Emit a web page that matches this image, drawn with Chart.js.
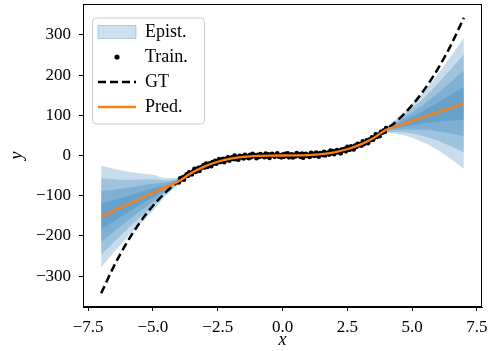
<!DOCTYPE html>
<html>
<head>
<meta charset="utf-8">
<script src="https://cdn.jsdelivr.net/npm/chart.js@4.4.0/dist/chart.umd.min.js"></script>
<style>
  html, body { margin: 0; padding: 0; background: #fff; }
</style>
</head>
<body>
<canvas id="chart" width="489" height="351"></canvas>
<script>
// grid used for the curves (x every 0.5)
const xGrid = [-7, -6.5, -6, -5.5, -5, -4.5, -4, -3.5, -3, -2.5, -2, -1.5, -1, -0.5, 0,
               0.5, 1, 1.5, 2, 2.5, 3, 3.5, 4, 4.5, 5, 5.5, 6, 6.5, 7];
const gtY = [-343, -274.6, -216, -166.4, -125, -91.1, -64, -42.9, -27, -15.6, -8, -3.4, -1, -0.1, 0,
             0.1, 1, 3.4, 8, 15.6, 27, 42.9, 64, 91.1, 125, 166.4, 216, 274.6, 343];
const predY = [-152, -137, -122, -107, -93, -78, -64, -43, -27, -15.6, -8, -3.4, -1, -0.1, 0,
               0.1, 1, 3.4, 8, 15.6, 27, 43, 64, 75, 86, 97, 108, 119, 130];
// outer half width of the epistemic band
const epistHalf = [127, 104, 82, 63, 45, 22, 8, 6, 6, 6, 6, 6, 6, 6, 6,
                   6, 6, 6, 6, 6, 6, 6, 8, 22, 42, 66, 95, 128, 163];
const epistLevels = [0.25, 0.5, 0.75, 1];

// training points
const trainX = [-4.00, -3.95, -3.90, -3.85, -3.80, -3.75, -3.70, -3.65, -3.60, -3.55,
                -3.50, -3.45, -3.40, -3.35, -3.30, -3.25, -3.20, -3.15, -3.10, -3.05,
                -3.00, -2.95, -2.90, -2.85, -2.80, -2.75, -2.70, -2.65, -2.60, -2.55,
                -2.50, -2.45, -2.40, -2.35, -2.30, -2.25, -2.20, -2.15, -2.10, -2.05,
                -2.00, -1.95, -1.90, -1.85, -1.80, -1.75, -1.70, -1.65, -1.60, -1.55,
                -1.50, -1.45, -1.40, -1.35, -1.30, -1.25, -1.20, -1.15, -1.10, -1.05,
                -1.00, -0.95, -0.90, -0.85, -0.80, -0.75, -0.70, -0.65, -0.60, -0.55,
                -0.50, -0.45, -0.40, -0.35, -0.30, -0.25, -0.20, -0.15, -0.10, -0.05,
                0.00, 0.05, 0.10, 0.15, 0.20, 0.25, 0.30, 0.35, 0.40, 0.45,
                0.50, 0.55, 0.60, 0.65, 0.70, 0.75, 0.80, 0.85, 0.90, 0.95,
                1.00, 1.05, 1.10, 1.15, 1.20, 1.25, 1.30, 1.35, 1.40, 1.45,
                1.50, 1.55, 1.60, 1.65, 1.70, 1.75, 1.80, 1.85, 1.90, 1.95,
                2.00, 2.05, 2.10, 2.15, 2.20, 2.25, 2.30, 2.35, 2.40, 2.45,
                2.50, 2.55, 2.60, 2.65, 2.70, 2.75, 2.80, 2.85, 2.90, 2.95,
                3.00, 3.05, 3.10, 3.15, 3.20, 3.25, 3.30, 3.35, 3.40, 3.45,
                3.50, 3.55, 3.60, 3.65, 3.70, 3.75, 3.80, 3.85, 3.90, 3.95, 4.00];
const trainY = [-67.2, -56.8, -59.7, -54.4, -60.5, -51.4, -46.8, -51.0, -41.5, -45.8,
                -47.2, -39.1, -33.3, -41.1, -35.2, -30.9, -38.7, -29.5, -30.0, -23.8,
                -29.8, -20.3, -28.5, -22.6, -19.7, -26.9, -16.6, -20.2, -13.4, -20.4,
                -14.6, -9.0, -16.4, -13.8, -8.5, -16.6, -8.2, -11.2, -4.4, -13.1,
                -7.8, -4.4, -8.9, -0.1, -9.1, -3.9, -10.3, -0.5, -4.7, -1.6,
                -7.3, 2.0, -4.4, -1.6, -6.9, 1.7, -4.0, 4.4, -1.4, 0.7,
                -6.8, 1.9, -3.7, 3.8, -1.9, 0.2, -4.3, 5.0, -2.7, 3.0,
                -6.1, 1.5, 4.0, -0.9, -3.4, 2.2, 5.6, -2.7, 0.4, -4.6,
                2.1, -3.4, 4.0, -1.2, 5.3, -4.6, 0.8, 3.2, -5.0, 1.8,
                -2.2, 6.2, -0.3, 3.1, -3.6, 4.8, -5.7, 1.7, 4.3, -1.1,
                1.3, -3.6, 6.9, 0.0, 4.1, -1.2, 7.1, 1.6, -2.8, 6.0,
                4.8, 1.0, 9.2, 0.3, 5.5, 7.6, 2.2, 12.6, 5.1, 11.3,
                3.0, 8.7, 13.8, 7.4, 12.5, 5.4, 15.5, 12.3, 16.4, 10.3,
                21.4, 15.6, 14.3, 22.7, 20.1, 15.1, 24.9, 21.0, 29.1, 25.4,
                28.6, 24.4, 35.3, 28.4, 33.7, 37.8, 30.6, 39.6, 37.9, 45.4,
                39.2, 44.9, 52.8, 46.4, 51.9, 47.8, 58.7, 56.5, 61.8, 58.6, 68.6];

const xTicks = [-7.5, -5, -2.5, 0, 2.5, 5, 7.5];
const yTicks = [-300, -200, -100, 0, 100, 200, 300];
const legendNames = ['Epist.', 'Train.', 'GT', 'Pred.'];

const BLUE_FILL = 'rgba(31, 119, 180, 0.25)';
const ORANGE = '#ff7f0e';
const SERIF = "'Liberation Serif', 'DejaVu Serif', serif";

function pts(ys) {
    return xGrid.map((x, i) => ({ x: x, y: ys[i] }));
}

const datasets = [];
datasets.push({
    label: 'Pred.', data: pts(predY), borderColor: ORANGE, borderWidth: 2.3,
    pointRadius: 0, fill: false, cubicInterpolationMode: 'monotone'
});
datasets.push({
    label: 'GT', data: pts(gtY), borderColor: '#000', borderWidth: 2.5, borderDash: [8, 4],
    pointRadius: 0, fill: false, cubicInterpolationMode: 'monotone'
});
datasets.push({
    label: 'Train.', data: trainX.map((x, i) => ({ x: x, y: trainY[i] })),
    showLine: false, pointRadius: 2.3, pointBorderWidth: 0,
    pointBackgroundColor: '#000', borderColor: '#000', fill: false
});
// nested bands: lower edge then upper edge filled down to it
epistLevels.forEach(k => {
    datasets.push({
        label: 'lo' + k, data: pts(predY.map((p, i) => p - k * epistHalf[i])),
        borderWidth: 0, pointRadius: 0, fill: false, cubicInterpolationMode: 'monotone'
    });
    datasets.push({
        label: 'hi' + k, data: pts(predY.map((p, i) => p + k * epistHalf[i])),
        borderWidth: 0, pointRadius: 0, fill: '-1', backgroundColor: BLUE_FILL,
        cubicInterpolationMode: 'monotone'
    });
});

// small black dot for the legend
const dot = document.createElement('canvas');
dot.width = 8; dot.height = 8;
const dctx = dot.getContext('2d');
dctx.fillStyle = '#000';
dctx.beginPath(); dctx.arc(4, 4, 2.6, 0, Math.PI * 2); dctx.fill();

const legendItems = [
    { text: legendNames[0], fillStyle: 'rgba(31, 119, 180, 0.22)', strokeStyle: 'rgba(31, 119, 180, 0.3)',
      lineWidth: 1, pointStyle: 'rect', hidden: false, fontColor: '#000' },
    { text: legendNames[1], fillStyle: '#000', strokeStyle: '#000', lineWidth: 0,
      pointStyle: dot, hidden: false, fontColor: '#000' },
    { text: legendNames[2], fillStyle: '#000', strokeStyle: '#000', lineWidth: 2.5, lineDash: [8, 4],
      pointStyle: 'line', hidden: false, fontColor: '#000' },
    { text: legendNames[3], fillStyle: ORANGE, strokeStyle: ORANGE, lineWidth: 2.3,
      pointStyle: 'line', hidden: false, fontColor: '#000' }
];

const framePlugin = {
    id: 'frame',
    afterLayout(chart) {
        // move legend a little into the axes, like matplotlib
        const lg = chart.legend;
        lg.left += 8; lg.right += 8;
        lg.top += 16; lg.bottom += 16;
    },
    afterDraw(chart) {
        const ctx = chart.ctx;
        const a = chart.chartArea;
        ctx.save();
        ctx.strokeStyle = '#000';
        ctx.lineWidth = 1;
        ctx.strokeRect(Math.round(a.left) + 0.5, Math.round(a.top) + 0.5,
                       Math.round(a.right - a.left) - 1, Math.round(a.bottom - a.top) - 1);
        // legend frame
        const lg = chart.legend;
        const fx = lg.left + 7 - 6, fy = lg.top + 7 - 5.5;
        ctx.strokeStyle = '#cccccc';
        ctx.beginPath();
        ctx.roundRect(fx + 0.5, fy + 0.5, 112, 106, 4);
        ctx.stroke();
        ctx.restore();
    }
};

const tickFont = { family: SERIF, size: 17 };
const titleFont = { family: SERIF, size: 18, style: 'italic' };

function fmt(v, digits) {
    const s = Math.abs(v).toFixed(digits);
    return v < 0 ? '\u2212' + s : s;
}

new Chart(document.getElementById('chart'), {
    type: 'line',
    data: { datasets: datasets },
    options: {
        responsive: false,
        animation: false,
        events: [],
        layout: { padding: { top: 4, right: 7, left: 0, bottom: 0 } },
        scales: {
            x: {
                type: 'linear', min: -7.7, max: 7.7,
                afterBuildTicks: s => { s.ticks = xTicks.map(v => ({ value: v })); },
                afterFit: s => { s.height = 44; s.paddingLeft = 0; s.paddingRight = 0; },
                grid: { drawOnChartArea: false, drawTicks: true, tickLength: 4, tickColor: '#000', tickWidth: 1 },
                border: { display: true, color: '#000', width: 1 },
                ticks: { color: '#000', font: tickFont, padding: 6, maxRotation: 0,
                         callback: v => fmt(v, 1) },
                title: { display: true, text: 'x', color: '#000', font: titleFont, padding: { top: 0, bottom: 0 } }
            },
            y: {
                type: 'linear', min: -377, max: 377,
                afterBuildTicks: s => { s.ticks = yTicks.map(v => ({ value: v })); },
                afterFit: s => { s.width = 83; s.paddingTop = 0; s.paddingBottom = 0; },
                grid: { drawOnChartArea: false, drawTicks: true, tickLength: 4, tickColor: '#000', tickWidth: 1 },
                border: { display: true, color: '#000', width: 1 },
                ticks: { color: '#000', font: tickFont, padding: 8, callback: v => fmt(v, 0) },
                title: { display: true, text: 'y', color: '#000', font: titleFont, padding: { top: 6, bottom: 0 } }
            }
        },
        plugins: {
            tooltip: { enabled: false },
            legend: {
                position: 'chartArea',
                align: 'start',
                labels: {
                    usePointStyle: true,
                    pointStyleWidth: 38,
                    boxHeight: 13,
                    padding: 7,
                    color: '#000',
                    font: { family: SERIF, size: 18 },
                    generateLabels: () => legendItems
                }
            }
        }
    },
    plugins: [framePlugin]
});
</script>
</body>
</html>
